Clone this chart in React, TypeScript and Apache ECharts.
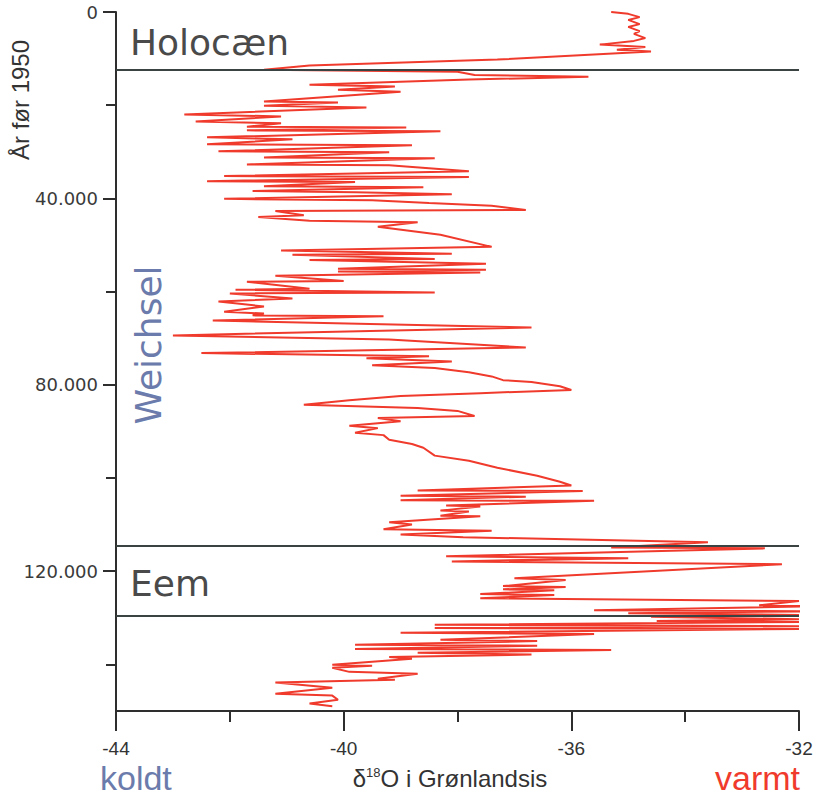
import React, { useEffect, useRef } from "react";
import * as echarts from "echarts";

// Age in thousands of years before 1950 (ka)
const AGE_KA = [
  0, 0.4, 1.1, 1.7, 2.6, 3.2, 4.1, 4.7, 5.6, 6.2, 7.0, 7.5, 8.1, 8.5,
  10.2, 11.5, 12.4, 12.8, 13.5, 13.9, 14.5, 15.6, 16.0, 16.7, 17.1,
  19.2, 19.4, 20.1, 20.5, 22.0, 22.4, 23.5, 23.9, 24.6, 24.8, 25.4, 25.6,
  26.9, 27.3, 28.4, 28.6, 29.9, 30.1, 31.2, 31.4, 32.7, 32.9, 34.2,
  35.2, 35.4, 36.3, 36.5, 37.4, 37.6, 38.4, 38.7, 39.1, 40.1, 40.4,
  41.0, 41.6, 42.5, 42.7, 43.6, 44.0, 44.8, 45.1, 46.1, 47.8, 50.4,
  51.2, 51.9, 52.1, 53.0, 53.2, 54.0, 55.1, 55.3, 55.7, 55.9, 56.6,
  57.7, 57.9, 59.4, 59.6, 60.2, 60.4, 61.5, 62.1, 63.2, 64.3, 64.7,
  65.1, 65.3, 66.2, 67.7, 69.4, 70.3, 72.0, 73.2, 73.9, 74.3, 75.0,
  75.8, 76.4, 77.3, 78.2, 79.0, 79.4, 80.3, 81.1, 81.8, 82.4, 83.3,
  84.3, 85.0, 85.6, 86.7, 87.1, 87.8, 88.8, 89.3, 90.3, 90.8, 91.8,
  92.7, 93.5, 95.2, 96.3, 97.8, 99.5, 100.8, 101.6, 102.7, 102.8,
  103.8, 104.0, 104.8, 104.9, 105.9, 106.1, 107.0, 107.2, 108.1, 108.2,
  109.5, 110.0, 111.0, 111.3, 112.1, 112.7, 113.8, 114.9, 115.1, 116.8,
  117.2, 117.9, 118.5, 121.5, 121.9, 123.2, 123.4, 123.9, 124.1, 124.9,
  125.1, 125.8, 126.4, 127.3, 127.5, 128.4, 128.6, 129.0, 129.4, 129.8,
  130.3, 130.7, 130.9, 131.5, 131.8, 132.2, 132.4, 133.2, 133.5, 134.7,
  135.0, 135.8, 136.0, 136.7, 136.9, 137.5, 137.9, 138.4, 138.8, 140.1,
  140.3, 140.7, 141.6, 142.0, 143.1, 143.3, 143.9, 145.0, 146.3, 146.7,
  147.6, 148.4, 149.0,
];

// δ18O (per mil) in Greenland ice
const D18O = [
  -35.3, -35.0, -34.8, -35.0, -34.8, -35.0, -34.8, -34.9, -34.7, -34.9, -35.5, -34.7, -35.2, -34.6,
  -37.3, -40.6, -41.4, -38.0, -37.7, -35.7, -37.8, -40.6, -39.1, -40.1, -39.0,
  -41.4, -40.1, -41.4, -39.6, -42.8, -41.1, -42.6, -41.1, -41.7, -38.9, -41.7, -38.3,
  -42.4, -40.9, -42.4, -38.8, -42.2, -39.2, -41.4, -38.4, -41.7, -39.2, -37.8,
  -42.1, -37.8, -42.4, -39.8, -41.4, -38.6, -41.6, -39.8, -38.1, -42.1, -39.5,
  -38.5, -37.4, -36.8, -41.2, -40.7, -41.5, -40.6, -38.7, -39.4, -38.3, -37.4,
  -41.1, -38.1, -40.9, -38.4, -40.6, -37.5, -40.1, -37.5, -40.1, -37.6, -41.2,
  -40.0, -41.7, -40.6, -41.9, -38.4, -42.0, -40.9, -42.2, -41.4, -42.1, -41.4,
  -41.6, -39.3, -42.3, -36.7, -43.0, -39.2, -36.8, -42.5, -38.5, -39.6, -38.1,
  -39.5, -38.4, -37.8, -37.4, -37.2, -36.7, -36.2, -36.0, -37.6, -39.0, -39.9,
  -40.7, -38.7, -38.0, -37.7, -39.4, -39.0, -39.9, -39.4, -39.8, -39.3, -39.2,
  -38.8, -38.6, -38.4, -37.8, -37.3, -36.6, -36.2, -36.0, -38.7, -35.8,
  -39.0, -36.8, -39.0, -35.6, -38.2, -37.6, -38.3, -37.8, -38.3, -37.6,
  -39.2, -38.8, -39.3, -37.4, -39.0, -37.9, -33.6, -35.3, -32.6, -38.2,
  -35.0, -38.1, -32.3, -37.0, -36.1, -37.2, -36.1, -37.2, -36.3, -37.6,
  -36.3, -37.6, -32.0, -32.7, -31.7, -35.6, -31.7, -35.0, -32.0, -34.6,
  -32.0, -34.5, -32.0, -38.4, -32.0, -38.4, -32.0, -39.0, -35.6, -38.3,
  -36.6, -39.8, -36.6, -39.8, -35.3, -38.7, -36.7, -39.2, -38.8, -40.2,
  -39.5, -40.2, -39.9, -38.7, -39.4, -39.1, -41.2, -40.2, -41.2, -40.2,
  -40.1, -40.6, -40.2,
];

const Y_MAJOR = [0, 40, 80, 120];
const Y_MINOR = [20, 60, 100, 140];
const X_MAJOR = [-44, -40, -36, -32];
const X_MINOR = [-42, -38, -34];
const BOUNDARIES_KA = [12.4, 114.5, 129.6];

const AXIS_COLOR = "#2e2e2e";
const RED = "#ef3a2c";
const BLUEGRAY = "#6b7bab";
const NARROW = '"Liberation Sans Narrow", "Liberation Sans", Arial, sans-serif';
const ROUND = '"DejaVu Sans", "Liberation Sans", sans-serif';

export default function App() {
  const ref = useRef<HTMLDivElement>(null);

  useEffect(() => {
    if (!ref.current) return;
    const chart = echarts.init(ref.current, undefined, { renderer: "svg" });
    const data = AGE_KA.map((a, i) => [D18O[i], a]);

    const option: any = {
      animation: false,
      backgroundColor: "#ffffff",
      grid: { left: 116, right: 22, top: 12, bottom: 85 },
      xAxis: [
        {
          type: "value",
          min: -44,
          max: -32,
          interval: 4,
          position: "bottom",
          axisLine: { show: true, onZero: false, lineStyle: { color: AXIS_COLOR, width: 2 } },
          axisTick: { show: true, length: 20, customValues: X_MAJOR, lineStyle: { color: AXIS_COLOR, width: 2 } },
          axisLabel: {
            customValues: X_MAJOR,
            margin: 28,
            fontSize: 19,
            fontFamily: NARROW,
            color: "#333",
          },
          splitLine: { show: false },
        },
        {
          type: "value",
          min: -44,
          max: -32,
          interval: 2,
          position: "bottom",
          axisLine: { show: false, onZero: false },
          axisTick: { show: true, length: 11, customValues: X_MINOR, lineStyle: { color: AXIS_COLOR, width: 2 } },
          axisLabel: { show: false },
          splitLine: { show: false },
        },
      ],
      yAxis: [
        {
          type: "value",
          inverse: true,
          min: 0,
          max: 150,
          interval: 40,
          position: "left",
          axisLine: { show: true, onZero: false, lineStyle: { color: AXIS_COLOR, width: 2 } },
          axisTick: { show: true, length: 13, customValues: Y_MAJOR, lineStyle: { color: AXIS_COLOR, width: 2 } },
          axisLabel: {
            customValues: Y_MAJOR,
            margin: 18,
            fontSize: 18,
            fontFamily: ROUND,
            color: "#3a3a3a",
            formatter: (v: number) => (v === 0 ? "0" : `${v}.000`),
          },
          splitLine: { show: false },
        },
        {
          type: "value",
          inverse: true,
          min: 0,
          max: 150,
          interval: 20,
          position: "left",
          axisLine: { show: false, onZero: false },
          axisTick: { show: true, length: 10, customValues: Y_MINOR, lineStyle: { color: AXIS_COLOR, width: 2 } },
          axisLabel: { show: false },
          splitLine: { show: false },
        },
      ],
      series: [
        {
          type: "line",
          xAxisIndex: 0,
          yAxisIndex: 0,
          data: [],
          z: 1,
          silent: true,
          markLine: {
            silent: true,
            symbol: "none",
            label: { show: false },
            lineStyle: { color: "#3a4242", width: 2, type: "solid" },
            data: BOUNDARIES_KA.map((b) => ({ yAxis: b })),
          },
        },
        {
          type: "line",
          xAxisIndex: 0,
          yAxisIndex: 0,
          data,
          z: 3,
          clip: false,
          showSymbol: false,
          symbol: "none",
          smooth: false,
          lineStyle: { color: RED, width: 2 },
        },
      ],
      graphic: [
        {
          type: "text",
          x: 20,
          y: 100,
          rotation: Math.PI / 2,
          style: {
            text: "År før 1950",
            fontSize: 24,
            fontFamily: NARROW,
            fill: "#333",
            align: "center",
            verticalAlign: "middle",
            textAlign: "center",
            textVerticalAlign: "middle",
          },
        },
        {
          type: "text",
          x: 130,
          y: 42,
          style: {
            text: "Holocæn",
            fontSize: 36,
            fontFamily: ROUND,
            fill: "#4a4a4a",
            align: "left",
            verticalAlign: "middle",
            textAlign: "left",
            textVerticalAlign: "middle",
          },
        },
        {
          type: "text",
          x: 130,
          y: 583,
          style: {
            text: "Eem",
            fontSize: 36,
            fontFamily: ROUND,
            fill: "#4a4a4a",
            align: "left",
            verticalAlign: "middle",
            textAlign: "left",
            textVerticalAlign: "middle",
          },
        },
        {
          type: "text",
          x: 148,
          y: 345,
          rotation: Math.PI / 2,
          style: {
            text: "Weichsel",
            fontSize: 36,
            fontFamily: ROUND,
            fill: BLUEGRAY,
            align: "center",
            verticalAlign: "middle",
            textAlign: "center",
            textVerticalAlign: "middle",
          },
        },
        {
          type: "text",
          x: 100,
          y: 778,
          style: {
            text: "koldt",
            fontSize: 34,
            fontFamily: NARROW,
            fill: BLUEGRAY,
            align: "left",
            verticalAlign: "middle",
            textAlign: "left",
            textVerticalAlign: "middle",
          },
        },
        {
          type: "text",
          x: 800,
          y: 778,
          style: {
            text: "varmt",
            fontSize: 34,
            fontFamily: NARROW,
            fill: RED,
            align: "right",
            verticalAlign: "middle",
            textAlign: "right",
            textVerticalAlign: "middle",
          },
        },
        {
          type: "text",
          x: 450,
          y: 778,
          style: {
            text: "δ{sup|18}O i Grønlandsis",
            fontSize: 24,
            fontFamily: NARROW,
            fill: "#333",
            align: "center",
            verticalAlign: "middle",
            textAlign: "center",
            textVerticalAlign: "middle",
            rich: {
              sup: { fontSize: 13, fontFamily: NARROW, fill: "#333", padding: [0, 0, 12, 0] },
            },
          },
        },
      ],
    };

    chart.setOption(option);
    return () => chart.dispose();
  }, []);

  return (
    <div
      ref={ref}
      style={{ position: "fixed", left: 0, top: 0, width: 821, height: 796, background: "#fff" }}
    />
  );
}
